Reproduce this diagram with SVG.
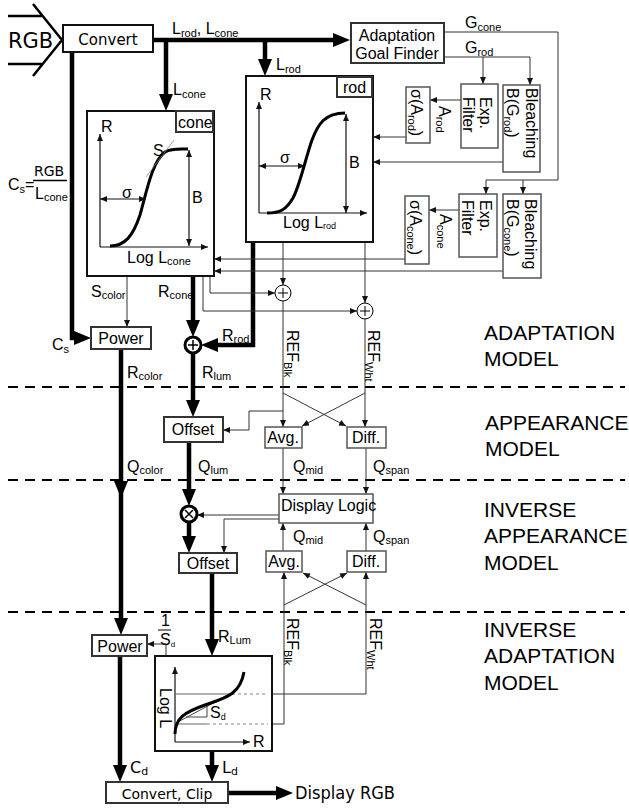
<svg xmlns="http://www.w3.org/2000/svg" width="629" height="809" viewBox="0 0 629 809">
<style>
.t{font-family:"Liberation Sans",Arial,sans-serif;font-size:16px;fill:#000}
.c{font-family:"DejaVu Sans",sans-serif;fill:#000}
.s{font-size:11px}
.sec{font-family:"Liberation Sans",Arial,sans-serif;font-size:21px;fill:#000}
.thick{fill:none;stroke:#000;stroke-width:4.5}
.thin{fill:none;stroke:#333;stroke-width:1}
.box{fill:#fff;stroke:#111;stroke-width:2}
.dbox{fill:#fff;stroke:#333;stroke-width:2}
.gbox{fill:#fff;stroke:#555;stroke-width:1.5}
.dash{fill:none;stroke:#000;stroke-width:2.2;stroke-dasharray:10 7}
.ax{fill:none;stroke:#111;stroke-width:1.2}
.curve{fill:none;stroke:#000;stroke-width:3}
.circ{fill:#fff;stroke:#000;stroke-width:1}
.bcirc{fill:#fff;stroke:#000;stroke-width:3}
.gl{fill:none;stroke:#666;stroke-width:1.2}
.gd{fill:none;stroke:#888;stroke-width:1.2;stroke-dasharray:3 3}
</style>
<defs>
<marker id="a" markerUnits="userSpaceOnUse" markerWidth="8" markerHeight="7" refX="7" refY="3" orient="auto-start-reverse"><path d="M0,0 L7,3 L0,6 z" fill="#111"/></marker>
<marker id="A" markerUnits="userSpaceOnUse" markerWidth="18" markerHeight="15" refX="3" refY="7" orient="auto"><path d="M0,0 L17,7 L0,14 z" fill="#000"/></marker>
</defs>
<rect width="629" height="809" fill="#fff"/>

<g id="section-dividers">
<path class="dash" d="M8,387 H625 M8,480 H625 M8,612 H625"/>
</g>
<g id="section-labels">
<text class="sec" x="484" y="340">ADAPTATION</text>
<text class="sec" x="484" y="366">MODEL</text>
<text class="sec" x="485" y="430">APPEARANCE</text>
<text class="sec" x="485" y="456">MODEL</text>
<text class="sec" x="484" y="517">INVERSE</text>
<text class="sec" x="484" y="543">APPEARANCE</text>
<text class="sec" x="484" y="570">MODEL</text>
<text class="sec" x="484" y="637">INVERSE</text>
<text class="sec" x="484" y="663">ADAPTATION</text>
<text class="sec" x="484" y="690">MODEL</text>
</g>

<g id="connectors">
<!-- thick -->
<path class="thick" d="M153,40 H336" marker-end="url(#A)"/>
<path class="thick" d="M166,40 V97" marker-end="url(#A)"/>
<path class="thick" d="M265,40 V62" marker-end="url(#A)"/>
<path class="thick" d="M72,52 V338 H77" marker-end="url(#A)"/>
<path class="thick" d="M193,276 V323" marker-end="url(#A)"/>
<path class="thick" d="M253,242 V345 H215" marker-end="url(#A)"/>
<path class="thick" d="M193,353 V403" marker-end="url(#A)"/>
<path class="thick" d="M121,349 V621" marker-end="url(#A)"/>
<polygon points="114,481 128,481 121,498" fill="#000"/>
<path class="thick" d="M189,442 V492" marker-end="url(#A)"/>
<path class="thick" d="M189,522 V539" marker-end="url(#A)"/>
<path class="thick" d="M212,573 V642" marker-end="url(#A)"/>
<path class="thick" d="M120,656 V768" marker-end="url(#A)"/>
<path class="thick" d="M212,751 V768" marker-end="url(#A)"/>
<path class="thick" d="M228,793 H279" marker-end="url(#A)"/>
<!-- thin -->
<path class="thin" d="M444,32 H558 V180 H486 V194" marker-end="url(#a)"/>
<path class="thin" d="M523,180 V194" marker-end="url(#a)"/>
<path class="thin" d="M444,57 H530 V85" marker-end="url(#a)"/>
<path class="thin" d="M483,57 V84" marker-end="url(#a)"/>
<path class="thin" d="M461,100 H430" marker-end="url(#a)"/>
<path class="thin" d="M406,137 H373" marker-end="url(#a)"/>
<path class="thin" d="M503,162 H373" marker-end="url(#a)"/>
<path class="thin" d="M459,210 H429" marker-end="url(#a)"/>
<path class="thin" d="M405,259 H214" marker-end="url(#a)"/>
<path class="thin" d="M503,271 H214" marker-end="url(#a)"/>
<path class="thin" d="M127,276 V327" marker-end="url(#a)"/>
<path class="thin" d="M210,276 V293 H275" marker-end="url(#a)"/>
<path class="thin" d="M203,276 V311 H357" marker-end="url(#a)"/>
<path class="thin" d="M283,242 V285" marker-end="url(#a)"/>
<path class="thin" d="M365,242 V303" marker-end="url(#a)"/>
<path class="thin" d="M283,301 V427" marker-end="url(#a)"/>
<path class="thin" d="M365,319 V427" marker-end="url(#a)"/>
<path class="thin" d="M283,393 L346,426" marker-end="url(#a)"/>
<path class="thin" d="M365,393 L302,426" marker-end="url(#a)"/>
<path class="thin" d="M283,411 H249 V430 H223" marker-end="url(#a)"/>
<path class="thin" d="M283,448 V494" marker-end="url(#a)"/>
<path class="thin" d="M366,448 V494" marker-end="url(#a)"/>
<path class="thin" d="M279,515 H197" marker-end="url(#a)"/>
<path class="thin" d="M279,519 H224 V553" marker-end="url(#a)"/>
<path class="thin" d="M283,551 V523" marker-end="url(#a)"/>
<path class="thin" d="M366,551 V523" marker-end="url(#a)"/>
<path class="thin" d="M268,724 H284 V572" marker-end="url(#a)"/>
<path class="thin" d="M268,694 H366 V572" marker-end="url(#a)"/>
<path class="thin" d="M284,605 L347,573" marker-end="url(#a)"/>
<path class="thin" d="M366,605 L303,573" marker-end="url(#a)"/>
<path class="thin" d="M166,656 V644 H147" marker-end="url(#a)"/>
</g>

<g id="rgb-in">
<path d="M8,16 H42 M33,4 L62,40 L33,76 M8,64 H42" fill="none" stroke="#000" stroke-width="2.5"/>
<text class="c" x="8" y="48" font-size="21">RGB</text>
</g>
<g id="convert">
<rect class="box" x="63" y="25" width="90" height="27"/>
<text class="c" x="108" y="45" font-size="15" text-anchor="middle">Convert</text>
</g>
<g id="adaptation-goal-finder">
<rect class="dbox" x="351" y="23" width="93" height="40" stroke="#444"/>
<text class="t" x="397" y="41" text-anchor="middle">Adaptation</text>
<text class="t" x="397" y="59" text-anchor="middle">Goal Finder</text>
</g>

<g id="rod-exp-filter">
<rect class="gbox" x="461" y="84" width="37" height="64"/>
<text class="t" font-size="18" transform="translate(480,97) rotate(90)">Exp.</text>
<text class="t" font-size="18" transform="translate(463,97) rotate(90)">Filter</text>
</g>
<g id="rod-bleaching">
<rect class="gbox" x="503" y="85" width="37" height="87"/>
<text class="t" font-size="18" transform="translate(526,88) rotate(90)">Bleaching</text>
<text class="t" font-size="18" transform="translate(507,88) rotate(90)">B(G<tspan class="s" dy="3">rod</tspan><tspan dy="-3">)</tspan></text>
</g>
<g id="rod-sigma">
<rect class="gbox" x="406" y="87" width="24" height="56"/>
<text class="t" transform="translate(411,89) rotate(90)">σ(A<tspan class="s" dy="3">rod</tspan><tspan dy="-3">)</tspan></text>
</g>
<g id="rod-a-label">
<text class="t" transform="translate(439,106) rotate(90)">A<tspan class="s" dy="3">rod</tspan></text>
</g>

<g id="cone-exp-filter">
<rect class="gbox" x="459" y="194" width="38" height="63"/>
<text class="t" font-size="18" transform="translate(480,200) rotate(90)">Exp.</text>
<text class="t" font-size="18" transform="translate(462,200) rotate(90)">Filter</text>
</g>
<g id="cone-bleaching">
<rect class="gbox" x="503" y="194" width="38" height="84"/>
<text class="t" font-size="18" transform="translate(525,199) rotate(90)">Bleaching</text>
<text class="t" font-size="18" transform="translate(507,199) rotate(90)">B(G<tspan class="s" dy="3">cone</tspan><tspan dy="-3">)</tspan></text>
</g>
<g id="cone-sigma">
<rect class="gbox" x="405" y="196" width="24" height="68"/>
<text class="t" transform="translate(410,200) rotate(90)">σ(A<tspan class="s" dy="3">cone</tspan><tspan dy="-3">)</tspan></text>
</g>
<g id="cone-a-label">
<text class="t" transform="translate(440,214) rotate(90)">A<tspan class="s" dy="3">cone</tspan></text>
</g>

<g id="cone">
<rect class="box" x="87" y="111" width="127" height="165"/>
<rect class="dbox" x="176" y="111" width="37" height="21"/>
<text class="t" x="178" y="128">cone</text>
<path class="ax" d="M100,247 V134" marker-end="url(#a)"/>
<path class="ax" d="M100,247 H208" marker-end="url(#a)"/>
<text class="t" font-size="14" x="101" y="132">R</text>
<path class="curve" d="M110,246 C125,246 133,236 140,215 C147,190 152,162 165,152 C172,148 180,149 188,149"/>
<path d="M146,177 L174,140" stroke="#888" stroke-width="0.8" fill="none"/>
<text class="t" font-size="14" x="153" y="156">S</text>
<path class="ax" d="M100,199 H146" marker-start="url(#a)" marker-end="url(#a)"/>
<text class="t" font-size="14" x="122" y="198">σ</text>
<path class="ax" d="M189,150 V246" marker-start="url(#a)" marker-end="url(#a)"/>
<text class="t" font-size="15" x="192" y="203">B</text>
<text class="t" font-size="15" x="127" y="263">Log L<tspan class="s" dy="2">cone</tspan></text>
</g>

<g id="rod">
<rect class="box" x="246" y="76" width="127" height="166"/>
<rect class="dbox" x="337" y="77" width="35" height="20"/>
<text class="t" x="343" y="93">rod</text>
<path class="ax" d="M259,213 V102" marker-end="url(#a)"/>
<path class="ax" d="M259,213 H367" marker-end="url(#a)"/>
<text class="t" font-size="14" x="260" y="100">R</text>
<path class="curve" d="M267,213 C280,213 286,210 293,198 C300,185 305,160 312,140 C318,124 325,113 345,113"/>
<path class="ax" d="M259,166 H305" marker-start="url(#a)" marker-end="url(#a)"/>
<text class="t" font-size="14" x="280" y="163">σ</text>
<path class="ax" d="M346,114 V213" marker-start="url(#a)" marker-end="url(#a)"/>
<text class="t" font-size="15" x="349" y="168">B</text>
<text class="t" font-size="15" x="283" y="228">Log L<tspan font-size="9" dy="1">rod</tspan></text>
</g>

<g id="sum-ref-blk"><circle class="circ" cx="283" cy="293" r="8"/><path d="M278,293 H288 M283,288 V298" stroke="#000"/></g>
<g id="sum-ref-wht"><circle class="circ" cx="365" cy="311" r="8"/><path d="M360,311 H370 M365,306 V316" stroke="#000"/></g>

<g id="power-color">
<rect class="dbox" x="91" y="327" width="60" height="22"/>
<text class="t" x="121" y="344" text-anchor="middle">Power</text>
</g>
<g id="sum-lum"><circle class="bcirc" cx="193" cy="345" r="8"/><path d="M188,345 H198 M193,340 V350" stroke="#000" stroke-width="1.5"/></g>

<g id="offset-1">
<rect class="dbox" x="164" y="417" width="59" height="25"/>
<text class="t" x="193" y="435" text-anchor="middle">Offset</text>
</g>
<g id="avg-1"><rect class="gbox" x="265" y="427" width="37" height="21"/><text class="t" font-size="15" x="283" y="443" text-anchor="middle">Avg.</text></g>
<g id="diff-1"><rect class="gbox" x="347" y="427" width="39" height="21"/><text class="t" font-size="15" x="366" y="443" text-anchor="middle">Diff.</text></g>

<g id="display-logic">
<rect class="gbox" x="279" y="494" width="94" height="29" stroke="#444"/>
<text class="t" x="281" y="511">Display Logic</text>
</g>
<g id="mult"><circle class="bcirc" cx="189" cy="514" r="8"/><path d="M185,510 L193,518 M193,510 L185,518" stroke="#000" stroke-width="1.5"/></g>
<g id="offset-2">
<rect class="dbox" x="179" y="553" width="58" height="20"/>
<text class="t" x="208" y="569" text-anchor="middle">Offset</text>
</g>
<g id="avg-2"><rect class="gbox" x="266" y="551" width="36" height="21"/><text class="t" font-size="15" x="284" y="567" text-anchor="middle">Avg.</text></g>
<g id="diff-2"><rect class="gbox" x="347" y="551" width="39" height="21"/><text class="t" font-size="15" x="366" y="567" text-anchor="middle">Diff.</text></g>

<g id="power-display">
<rect class="dbox" x="92" y="635" width="55" height="21"/>
<text class="t" x="120" y="652" text-anchor="middle">Power</text>
</g>
<g id="display-curve">
<rect class="box" x="155" y="656" width="117" height="95"/>
<path class="ax" d="M175,742 V667" marker-end="url(#a)"/>
<path class="ax" d="M175,742 H250" marker-end="url(#a)"/>
<text class="t" font-size="14" x="253" y="747">R</text>
<text class="t" font-size="14" transform="translate(160,688) rotate(90)">Log L</text>
<path class="gl" d="M175,694 H232 M175,724 H207"/>
<path class="gd" d="M232,694 H268 M207,724 H268"/>
<path d="M176,723 L232,693 M186,717 H207 V706" stroke="#444" stroke-width="1" fill="none"/>
<path class="curve" d="M175,734 C175,718 185,712 205,705 C225,698 240,695 244,672"/>
<text class="t" font-size="13" x="210" y="718">S<tspan font-size="9" dy="2">d</tspan></text>
</g>
<g id="convert-clip">
<rect class="dbox" x="106" y="782" width="122" height="21"/>
<text class="c" x="167" y="799" font-size="14" text-anchor="middle">Convert, Clip</text>
</g>
<g id="display-rgb">
<text class="c" x="295" y="799" font-size="18" textLength="100" lengthAdjust="spacingAndGlyphs">Display RGB</text>
</g>

<g id="labels">
<text class="t" x="172" y="34">L<tspan class="s" dy="3">rod</tspan><tspan dy="-3">, L</tspan><tspan class="s" dy="3">cone</tspan></text>
<text class="t" x="173" y="95">L<tspan class="s" dy="3">cone</tspan></text>
<text class="t" x="276" y="70">L<tspan class="s" dy="3">rod</tspan></text>
<text class="t" x="465" y="28">G<tspan class="s" dy="3">cone</tspan></text>
<text class="t" x="465" y="53">G<tspan class="s" dy="3">rod</tspan></text>
<text class="t" x="8" y="190">C<tspan class="s" dy="3">s</tspan><tspan dy="-3">=</tspan></text>
<text class="c" x="34" y="176" font-size="14">RGB</text>
<path d="M33,180.5 H67" stroke="#000" stroke-width="1.5"/>
<text class="t" x="35" y="199">L<tspan class="s" dy="2">cone</tspan></text>
<text class="t" x="91" y="297">S<tspan class="s" dy="2">color</tspan></text>
<text class="t" x="158" y="297">R<tspan class="s" dy="2">cone</tspan></text>
<text class="t" x="222" y="341">R<tspan class="s" dy="2">rod</tspan></text>
<text class="t" x="52" y="350">C<tspan class="s" dy="3">s</tspan></text>
<text class="t" x="127" y="378">R<tspan class="s" dy="2">color</tspan></text>
<text class="t" x="202" y="378">R<tspan class="s" dy="2">lum</tspan></text>
<text class="t" x="127" y="472">Q<tspan class="s" dy="2">color</tspan></text>
<text class="t" x="198" y="472">Q<tspan class="s" dy="2">lum</tspan></text>
<text class="t" x="293" y="472">Q<tspan class="s" dy="2">mid</tspan></text>
<text class="t" x="373" y="472">Q<tspan class="s" dy="2">span</tspan></text>
<text class="t" x="293" y="542">Q<tspan class="s" dy="2">mid</tspan></text>
<text class="t" x="373" y="542">Q<tspan class="s" dy="2">span</tspan></text>
<text class="t" x="218" y="642">R<tspan class="s" dy="2">Lum</tspan></text>
<text class="c" x="130" y="773" font-size="16">C<tspan font-size="11" dy="2">d</tspan></text>
<text class="c" x="222" y="773" font-size="16">L<tspan font-size="11" dy="2">d</tspan></text>
<text class="t" font-size="12" x="161" y="626">1</text>
<path d="M158,630 H171" stroke="#000" stroke-width="1"/>
<text class="t" font-size="12" x="160" y="645">S<tspan font-size="8" dy="2">d</tspan></text>
<text class="t" font-size="17" transform="translate(287,330) rotate(90)">REF<tspan class="s" dy="3">Blk</tspan></text>
<text class="t" font-size="17" transform="translate(368,330) rotate(90)">REF<tspan class="s" dy="3">Wht</tspan></text>
<text class="t" font-size="17" transform="translate(287,618) rotate(90)">REF<tspan class="s" dy="3">Blk</tspan></text>
<text class="t" font-size="17" transform="translate(370,618) rotate(90)">REF<tspan class="s" dy="3">Wht</tspan></text>
</g>
</svg>
